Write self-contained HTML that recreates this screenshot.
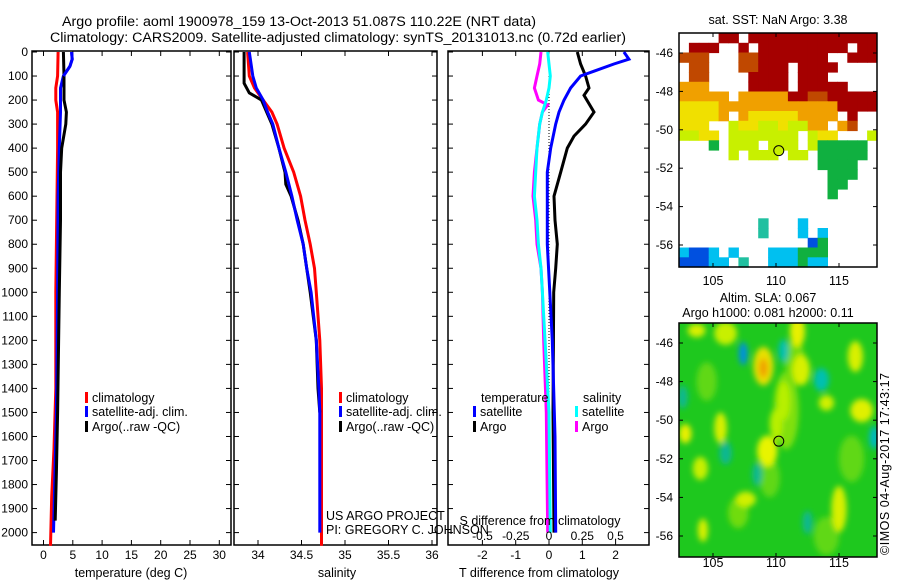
<!DOCTYPE html>
<html><head><meta charset="utf-8">
<style>
html,body{margin:0;padding:0;background:#fff;}
svg{display:block;font-family:"Liberation Sans",sans-serif;}
text{font-size:12px;fill:#000;}
.big{font-size:13.5px;}
.leg{font-size:12.5px;}
</style></head>
<body>
<svg id="chart" width="900" height="580" viewBox="0 0 900 580" xmlns="http://www.w3.org/2000/svg">
<text class="big" x="299" y="26" text-anchor="middle" textLength="474" lengthAdjust="spacingAndGlyphs">Argo profile: aoml 1900978_159 13-Oct-2013 51.087S 110.22E (NRT data)</text>
<text class="big" x="338" y="42" text-anchor="middle" textLength="576" lengthAdjust="spacingAndGlyphs">Climatology: CARS2009. Satellite-adjusted climatology: synTS_20131013.nc (0.72d earlier)</text>
<g id="g"></g>
</svg>
<script>
// ---------- data ----------
const depthTicks = [0,100,200,300,400,500,600,700,800,900,1000,1100,1200,1300,1400,1500,1600,1700,1800,1900,2000];
const tempTicks = [0,5,10,15,20,25,30];
const salTicks = [34,34.5,35,35.5,36];
const salTickLabels = ["34","34.5","35","35.5","36"];
const tdTicks = [-2,-1,0,1,2];
const sdTicks = [-0.5,-0.25,0,0.25,0.5];
const sdTickLabels = ["-0.5","-0.25","0","0.25","0.5"];

const tClimDepth = [0,100,150,200,250,400,1000,1400,1650,1850,2055];
const tClimVal   = [2.5,2.4,2.1,2.1,2.4,2.4,2.1,2.1,1.8,1.4,1.2];
const tSatDepth  = [0,30,60,100,150,250,400,600,1000,1500,2000];
const tSatVal    = [4.8,4.9,4.5,3.4,2.9,2.9,2.7,2.5,2.4,2.2,1.7];
const tArgoDepth = [0,100,200,250,300,400,500,700,1000,1500,1750,1950];
const tArgoVal   = [3.4,3.5,3.5,3.9,3.8,3.1,2.9,2.9,2.7,2.4,2.2,2.0];

const sClimDepth = [0,100,150,200,250,300,400,500,600,700,800,900,1000,1200,1400,2055];
const sClimVal   = [33.88,33.9,33.96,34.06,34.16,34.22,34.30,34.41,34.49,34.54,34.60,34.65,34.67,34.71,34.73,34.73];
const sSatDepth  = [0,100,150,200,250,300,400,500,600,700,800,900,1000,1200,1400,1500,2000];
const sSatVal    = [33.9,33.94,33.98,34.06,34.11,34.17,34.24,34.32,34.39,34.45,34.52,34.56,34.61,34.67,34.70,34.71,34.71];
const sArgoDepth = [0,130,170,200,300,400,500,550,600,700,800,1000,1200,1400,1500];
const sArgoVal   = [33.84,33.84,33.9,34.04,34.16,34.24,34.31,34.32,34.38,34.46,34.52,34.60,34.67,34.69,34.71];

const dTSatDepth = [0,30,50,80,100,150,200,250,300,400,500,800,1200,1600,2000];
const dTSatVal   = [2.25,2.4,1.95,1.35,0.95,0.65,0.45,0.3,0.2,0.05,-0.05,-0.05,0.1,0.18,0.2];
const dTArgoDepth = [0,50,100,150,180,250,300,350,400,500,600,700,800,900,1000,1500,2000];
const dTArgoVal   = [0.85,0.95,1.1,1.2,1.05,1.35,1.1,0.75,0.55,0.35,0.15,0.18,0.25,0.2,0.14,0.12,0.15];
const dSArgoDepth = [0,50,100,150,200,220,250,300,400,500,600,700,800,900,1000,1200,1500,2000];
const dSArgoVal   = [-0.06,-0.07,-0.09,-0.11,-0.08,-0.01,-0.05,-0.07,-0.09,-0.11,-0.12,-0.1,-0.09,-0.06,-0.05,-0.04,-0.02,-0.01];
const dSSatDepth = [0,50,100,150,200,250,300,400,500,600,700,800,900,1000,1500,2000];
const dSSatVal   = [-0.01,0,0.01,0,-0.02,-0.05,-0.07,-0.09,-0.1,-0.11,-0.09,-0.08,-0.06,-0.05,0,0.01];

// SST map: rows north->south, 20 columns (lon 102.3..118), codes
const sstRows = [
"....RR.RRRRRRRRRRRRR",
".RRR..R.RRRRRRRRR.RR",
"OOO...OORRRRRRR..RRR",
".OO...OORRR.RRRR....",
".OO....RRRR.RRR.....",
"ooo....RRRR.RRRRR...",
"ooooo.oooooRROORRRRR",
"yyyyooooooooooooRRRR",
"yyyyo.oyyyyyoooo.R..",
"yyy..gyyggyggoo.oO..",
"ggyy.ggggggg.gyy...g",
"...G.ggg.ggg.gGGGGG.",
".....g.ggg.gg.GGGGG.",
"..............GGGG..",
"...............GGG..",
"...............GG...",
"...............G....",
"....................",
"....................",
"........t...B.......",
"........t...B.B.....",
".............bG.....",
"BbbB.B...BBBGGG.....",
"bbbBB.t..BBBGBB....."];
const sstColors = {R:"#a50000",O:"#c04800",o:"#f0a000",y:"#f0e000",g:"#c8f000",G:"#10b040",B:"#00c0f0",b:"#0050e0",t:"#20c0a0"};

// SLA map blobs: lon, lat, rx(deg), ry(deg), color
const slaLon = [110.8,111.5,109.5,116,114,104.5,107,103.7,106,107.4,109,109,110.6,111.7,112,110.6,110,109.3,116.3,116.8,114,102.8,105.6,104,107.6,115,104.2,113.6,117.8,106,102.6,108.5,112.5];
const slaLat = [-49.5,-47,-53,-52,-56,-48,-54.8,-45.35,-45.5,-46.55,-47.2,-47.3,-46.4,-45.4,-47.4,-49,-50.2,-51.6,-46.7,-49.5,-49.1,-50.7,-50.4,-52.5,-54.1,-54.6,-55.7,-47.9,-50.9,-51.7,-48.8,-52.8,-55.3];
const slaRx  = [1.0,0.8,0.8,1.0,1.0,0.8,0.8,0.7,0.9,0.35,0.8,0.35,0.4,0.6,0.7,0.5,0.5,0.8,0.6,0.9,0.6,0.5,0.5,0.6,0.8,0.6,0.4,0.6,0.4,0.5,0.4,0.4,0.4];
const slaRy  = [2.0,1.2,1.0,1.2,1.0,1.0,0.8,0.35,0.6,0.6,1.0,0.5,0.6,0.8,0.8,1.0,0.8,0.8,0.8,0.6,0.4,0.5,0.8,0.6,0.4,1.2,0.6,0.6,0.6,0.6,0.6,0.6,0.6];
const slaCol = ["#80e010","#70dc10","#60d818","#60d818","#60d818","#60d818","#70dc10","#d8f000","#c8f000","#0090e0","#e8e000","#f0a000","#00c0b0","#e8f000","#d8f000","#b8f000","#b8f000","#e8f400","#d8f000","#e0f000","#d0f000","#e8f000","#d8f000","#c8f000","#d0f000","#d8f000","#d8f000","#00c0b0","#00b8c0","#10b890","#10b890","#10b890","#10b890"];

// ---------- helpers ----------
const NS="http://www.w3.org/2000/svg";
const root=document.getElementById('g');
function el(tag,attrs,parent){const e=document.createElementNS(NS,tag);for(const k in attrs)e.setAttribute(k,attrs[k]);(parent||root).appendChild(e);return e;}
function txt(s,x,y,anchor,parent){const t=el('text',{x:x,y:y,'text-anchor':anchor||'start'},parent);t.textContent=s;return t;}

const yTop=51, yBot=545;
const yD = d => 52 + d*0.2403;
const xT = v => 43.5 + v*5.86;
const xS = v => 258 + (v-34)*87;
const xTd = v => 549 + v*33.3;
const xSd = v => 549 + v*133;

function panel(name,x0,x1){
  const r=el('rect',{x:x0,y:yTop,width:x1-x0,height:yBot-yTop,fill:'none',stroke:'#000','stroke-width':1.5});
  
  
  depthTicks.forEach(d=>{
    el('line',{x1:x0,x2:x0+5,y1:yD(d),y2:yD(d),stroke:'#000'});
    el('line',{x1:x1,x2:x1-5,y1:yD(d),y2:yD(d),stroke:'#000'});
  });
}
function series(name,xs,ds,fx,color){
  const pts=ds.map((d,i)=>fx(xs[i]).toFixed(1)+','+yD(d).toFixed(1)).join(' ');
  const p=el('polyline',{points:pts,fill:'none',stroke:color,'stroke-width':3});
  
  
}
function legend(name,x,y,color,label){
  const g=el('g',{});
  
  
  el('rect',{x:x,y:y-10,width:3,height:11,fill:color},g);
  const t=txt(label,x+7,y,'start',g);
  t.setAttribute('class','leg');
}

// y axis labels
const ya=el('g',{});


depthTicks.forEach(d=>txt(String(d),28,yD(d)+4,'end',ya));

// Panel 1: temperature
panel('temperature-panel',32,231);
tempTicks.forEach(v=>{
  el('line',{x1:xT(v),x2:xT(v),y1:yTop,y2:yTop+5,stroke:'#000'});
  el('line',{x1:xT(v),x2:xT(v),y1:yBot,y2:yBot-5,stroke:'#000'});
  const t=txt(String(v),xT(v),559,'middle');
  
  
});
const tt=txt('temperature (deg C)',131,577,'middle');
tt.setAttribute('class','leg');


series('temperature-climatology-line',tClimVal,tClimDepth,xT,'#f00');
series('temperature-satellite-line',tSatVal,tSatDepth,xT,'#00f');
series('temperature-argo-line',tArgoVal,tArgoDepth,xT,'#000');
series('temperature-satellite-line-top',tSatVal.slice(0,4),tSatDepth.slice(0,4),xT,'#00f');
legend('legend-climatology',85,402,'#f00','climatology');
legend('legend-satellite-adj',85,416,'#00f','satellite-adj. clim.');
legend('legend-argo',85,431,'#000','Argo(..raw -QC)');

// Panel 2: salinity
panel('salinity-panel',234,437);
salTicks.forEach((v,i)=>{
  el('line',{x1:xS(v),x2:xS(v),y1:yTop,y2:yTop+5,stroke:'#000'});
  el('line',{x1:xS(v),x2:xS(v),y1:yBot,y2:yBot-5,stroke:'#000'});
  const t=txt(salTickLabels[i],xS(v),559,'middle');
  
  
});
const st=txt('salinity',337,577,'middle');
st.setAttribute('class','leg');


series('salinity-climatology-line',sClimVal,sClimDepth,xS,'#f00');
series('salinity-argo-line',sArgoVal,sArgoDepth,xS,'#000');
series('salinity-satellite-line',sSatVal,sSatDepth,xS,'#00f');
legend('legend-climatology-2',339,402,'#f00','climatology');
legend('legend-satellite-adj-2',339,416,'#00f','satellite-adj. clim.');
legend('legend-argo-2',339,431,'#000','Argo(..raw -QC)');
const c1=txt('US ARGO PROJECT',326,520);
c1.setAttribute('class','leg');


const c2=txt('PI: GREGORY C. JOHNSON',326,534);
c2.setAttribute('class','leg');



// Panel 3: differences
panel('difference-panel',448,649);
tdTicks.forEach(v=>{
  el('line',{x1:xTd(v),x2:xTd(v),y1:yTop,y2:yTop+5,stroke:'#000'});
  el('line',{x1:xTd(v),x2:xTd(v),y1:yBot,y2:yBot-5,stroke:'#000'});
  const t=txt(String(v),xTd(v),559,'middle');
  
  
});
const tdt=txt('T difference from climatology',539,577,'middle');
tdt.setAttribute('class','leg');


el('line',{x1:xTd(0),x2:xTd(0),y1:yD(100),y2:yD(2000),stroke:'#000','stroke-dasharray':'1,2'});
series('s-diff-argo-line',dSArgoVal,dSArgoDepth,xSd,'#f0f');
series('s-diff-satellite-line',dSSatVal,dSSatDepth,xSd,'#0ff');
series('t-diff-argo-line',dTArgoVal,dTArgoDepth,xTd,'#000');
series('t-diff-satellite-line',dTSatVal,dTSatDepth,xTd,'#00f');
const sdt=txt('S difference from climatology',540,525,'middle');
sdt.setAttribute('class','leg');


sdTicks.forEach((v,i)=>{
  const t=txt(sdTickLabels[i],xSd(v),540,'middle');
  
  
});
const lt=txt('temperature',481,402);
lt.setAttribute('class','leg');


const ls=txt('salinity',583,402);
ls.setAttribute('class','leg');


legend('legend-t-satellite',473,416,'#00f','satellite');
legend('legend-t-argo',473,431,'#000','Argo');
legend('legend-s-satellite',575,416,'#0ff','satellite');
legend('legend-s-argo',575,431,'#f0f','Argo');

// ---------- maps ----------
const mx0=679, mx1=877;
const lonX = lon => 776 + (lon-110)*12.6;
const lonTicks=[105,110,115];
const latTicks=[-46,-48,-50,-52,-54,-56];
function mapFrame(name,y0,y1,latY,labY){
  const r=el('rect',{x:mx0,y:y0,width:mx1-mx0,height:y1-y0,fill:'none',stroke:'#000','stroke-width':1.5});
  
  
  latTicks.forEach(l=>{
    el('line',{x1:mx0,x2:mx0+4,y1:latY(l),y2:latY(l),stroke:'#000'});
    el('line',{x1:mx1,x2:mx1-4,y1:latY(l),y2:latY(l),stroke:'#000'});
    const t=txt(String(l),673,latY(l)+4,'end');
    
    
  });
  lonTicks.forEach(l=>{
    el('line',{x1:lonX(l),x2:lonX(l),y1:y0,y2:y0+4,stroke:'#000'});
    el('line',{x1:lonX(l),x2:lonX(l),y1:y1,y2:y1-4,stroke:'#000'});
    const t=txt(String(l),lonX(l),labY,'middle');
    t.setAttribute('class','leg');
    
    
  });
}
// SST map
const m1y0=33, m1y1=267;
const lat1 = l => 53 + (-46-l)*19.2;
const sstG=el('g',{});


const cw=(mx1-mx0)/20, ch=(m1y1-m1y0)/sstRows.length;
sstRows.forEach((row,ri)=>{
  for(let ci=0;ci<row.length;ci++){
    const c=sstColors[row[ci]];
    if(!c) continue;
    const r=el('rect',{x:(mx0+ci*cw).toFixed(1),y:(m1y0+ri*ch).toFixed(1),width:(cw+0.5).toFixed(1),height:(ch+0.5).toFixed(1),fill:c},sstG);
    
    
  }
});
mapFrame('sst-map-frame',m1y0,m1y1,lat1,285);
const sc1=el('circle',{cx:lonX(110.22),cy:lat1(-51.087),r:5,fill:'#c8f000',stroke:'#000'});


const s1t=txt('sat. SST: NaN Argo: 3.38',778,24,'middle');
s1t.setAttribute('class','leg');



// SLA map
const m2y0=323, m2y1=557;
const lat2 = l => 343 + (-46-l)*19.3;
const defs=el('defs',{});
const cp=el('clipPath',{id:'clip2'},defs); el('rect',{x:mx0,y:m2y0,width:mx1-mx0,height:m2y1-m2y0},cp);
const fl=el('filter',{id:'blur',x:'-50%',y:'-50%',width:'200%',height:'200%'},defs); el('feGaussianBlur',{stdDeviation:3},fl);
const slaG=el('g',{'clip-path':'url(#clip2)'});


el('rect',{x:mx0,y:m2y0,width:mx1-mx0,height:m2y1-m2y0,fill:'#1ec81e'},slaG);
const blobG=el('g',{filter:'url(#blur)'},slaG);
slaLon.forEach((lon,i)=>{
  const e=el('ellipse',{cx:lonX(lon),cy:lat2(slaLat[i]),rx:slaRx[i]*12.6,ry:slaRy[i]*19.3,fill:slaCol[i]},blobG);
  
  
});
mapFrame('sla-map-frame',m2y0,m2y1,lat2,567);
const sc2=el('circle',{cx:lonX(110.22),cy:lat2(-51.087),r:5,fill:'none',stroke:'#000'});


const s2a=txt('Altim. SLA: 0.067',768,302,'middle');
s2a.setAttribute('class','leg');


const s2b=txt('Argo h1000: 0.081 h2000: 0.11',768,317,'middle');
s2b.setAttribute('class','leg');


const ts=txt('©IMOS 04-Aug-2017 17:43:17',0,0,'middle');
ts.setAttribute('class','leg');
ts.setAttribute('textLength','182');
ts.setAttribute('transform','translate(889,464) rotate(-90)');


</script>
</body></html>
